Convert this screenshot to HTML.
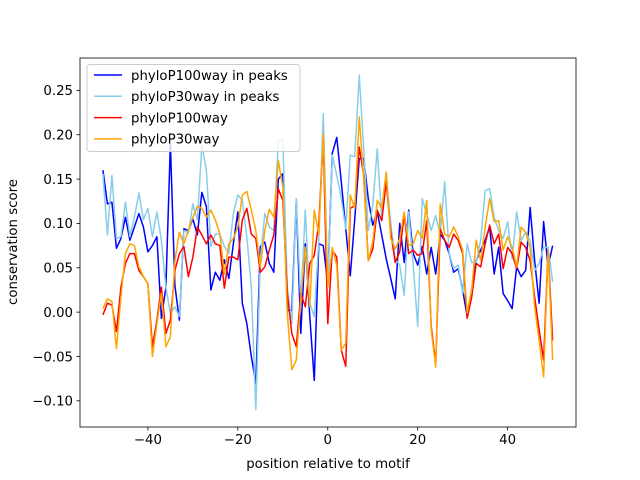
<!DOCTYPE html>
<html><head><meta charset="utf-8"><style>
html,body{margin:0;padding:0;background:#fff;}
svg{display:block;font-family:"DejaVu Sans","Liberation Sans",sans-serif;}
</style></head><body>
<svg id="chart" width="640" height="480" viewBox="0 0 640 480" xmlns="http://www.w3.org/2000/svg">
<rect width="640" height="480" fill="#fff"/>
<g id="plot"></g>
<rect x="80" y="58" width="496" height="369" fill="none" stroke="#000" stroke-width="0.8"/>
<g id="xticks"></g><g id="yticks"></g>
<text x="328" y="468" font-size="13.3" text-anchor="middle">position relative to motif</text>
<text transform="translate(17,242) rotate(-90)" font-size="13.3" text-anchor="middle">conservation score</text>
<g id="legend"></g>
</svg>
<script>
const positions = Array.from({length:101},(_, i)=>i-50);
const p100Peaks = [0.160,0.122,0.124,0.072,0.083,0.107,0.081,0.096,0.111,0.096,0.068,0.075,0.085,-0.007,0.028,0.190,0.030,-0.009,0.094,0.092,0.105,0.087,0.135,0.119,0.025,0.045,0.036,0.059,0.038,0.077,0.113,0.010,-0.013,-0.050,-0.080,0.074,0.079,0.055,0.045,0.150,0.156,0.002,0.002,0.126,-0.024,0.077,-0.005,-0.077,0.077,0.075,0.032,0.179,0.197,0.147,0.094,0.041,0.105,0.173,0.173,0.128,0.098,0.113,0.087,0.060,0.038,0.015,0.100,0.056,0.115,0.066,0.053,0.074,0.043,0.073,0.043,0.088,0.081,0.066,0.045,0.049,0.025,-0.005,0.025,0.058,0.070,0.081,0.096,0.043,0.073,0.021,0.013,0.004,0.051,0.040,0.047,0.118,0.058,0.010,0.102,0.051,0.075];
const p30Peaks = [0.156,0.087,0.154,0.083,0.085,0.124,0.085,0.107,0.134,0.104,0.117,0.085,0.113,0.081,0.028,-0.002,0.006,-0.005,0.092,0.089,0.122,0.104,0.188,0.160,0.074,0.088,0.088,0.074,0.066,0.111,0.132,0.126,0.085,0.028,-0.110,0.059,0.111,0.096,0.092,0.194,0.194,0.028,-0.013,0.128,0.010,0.115,0.010,-0.005,0.081,0.224,0.030,0.177,0.154,0.128,0.094,0.177,0.175,0.267,0.184,0.092,0.120,0.184,0.105,0.156,0.100,0.060,0.053,0.019,0.113,0.053,-0.016,0.128,0.111,0.092,0.109,0.088,0.147,0.066,0.049,0.053,0.021,0.077,0.056,0.056,0.081,0.137,0.139,0.107,0.092,0.083,0.102,0.060,0.113,0.081,0.090,0.081,0.047,0.055,0.073,0.073,0.034];
const p100All = [-0.003,0.010,0.008,-0.022,0.028,0.055,0.066,0.066,0.047,0.040,0.032,-0.039,-0.009,0.028,-0.024,-0.009,0.047,0.066,0.074,0.040,0.062,0.096,0.087,0.077,0.087,0.077,0.075,0.027,0.062,0.062,0.059,0.104,0.117,0.088,0.083,0.045,0.051,0.070,0.087,0.139,0.126,0.021,-0.024,-0.039,0.021,0.006,0.055,0.064,0.100,0.194,-0.013,0.070,0.062,-0.043,-0.061,0.117,0.120,0.186,0.154,0.058,0.071,0.115,0.103,0.147,0.090,0.056,0.068,0.110,0.066,0.070,0.064,0.066,0.103,-0.016,-0.058,0.094,0.081,0.073,0.088,0.081,0.066,-0.007,0.017,0.055,0.051,0.077,0.098,0.077,0.088,0.049,0.073,0.066,0.049,0.079,0.073,0.058,0.017,-0.020,-0.054,0.070,-0.032];
const p30All = [0.004,0.015,0.012,-0.041,0.017,0.066,0.077,0.075,0.051,0.040,0.032,-0.050,-0.013,0.021,-0.039,-0.028,0.058,0.090,0.077,0.092,0.107,0.119,0.117,0.107,0.115,0.104,0.088,0.043,0.077,0.083,0.096,0.132,0.136,0.115,0.092,0.051,0.092,0.116,0.107,0.171,0.141,-0.002,-0.065,-0.054,0.014,0.073,0.006,0.115,0.088,0.201,0.028,0.073,0.053,-0.043,-0.035,0.132,0.117,0.220,0.150,0.058,0.079,0.126,0.117,0.158,0.083,0.071,0.083,0.113,0.075,0.077,0.092,0.083,0.126,-0.020,-0.062,0.122,0.088,0.085,0.096,0.085,0.070,-0.001,0.025,0.081,0.058,0.096,0.128,0.102,0.103,0.070,0.085,0.073,0.051,0.096,0.090,0.073,0.006,-0.032,-0.073,0.070,-0.054];
const seriesNames = ["phyloP100way in peaks","phyloP30way in peaks","phyloP100way","phyloP30way"];
const seriesColors = ["#0000ff","#87ceeb","#ff0000","#ffa500"];
const xTickValues = [-40,-20,0,20,40];
const yTickValues = [-0.10,-0.05,0.00,0.05,0.10,0.15,0.20,0.25];

const NS="http://www.w3.org/2000/svg";
const X0=80,X1=576,Y0=58,Y1=427;
const xMin=-55.1,xMax=55.2,yMin=-0.1295,yMax=0.2865;
const sx=v=>X0+(v-xMin)/(xMax-xMin)*(X1-X0);
const sy=v=>Y1-(v-yMin)/(yMax-yMin)*(Y1-Y0);
function mk(tag,attrs,parent){const e=document.createElementNS(NS,tag);for(const k in attrs)e.setAttribute(k,attrs[k]);parent.appendChild(e);return e;}
const plot=document.getElementById('plot');
const data=[p100Peaks,p30Peaks,p100All,p30All];
const slugs=["phylop100-peaks-line","phylop30-peaks-line","phylop100-line","phylop30-line"];
data.forEach((arr,si)=>{
  const pts=arr.map((v,i)=>sx(positions[i]).toFixed(2)+","+sy(v).toFixed(2)).join(" ");
  const pl=mk('polyline',{points:pts,fill:'none',stroke:seriesColors[si],'stroke-width':1.5,'stroke-linejoin':'round'},plot);
  
  
});
const xg=document.getElementById('xticks');
xTickValues.forEach(v=>{
  const x=sx(v);
  const t=mk('line',{x1:x,x2:x,y1:Y1,y2:Y1+3.5,stroke:'#000','stroke-width':0.8},xg);
  
  
  const l=mk('text',{x:x,y:Y1+17,'font-size':13.3,'text-anchor':'middle'},xg);
  l.textContent=(v<0?"\u2212":"")+Math.abs(v);
  
  
});
const yg=document.getElementById('yticks');
yTickValues.forEach(v=>{
  const y=sy(v);
  const t=mk('line',{x1:X0-3.5,x2:X0,y1:y,y2:y,stroke:'#000','stroke-width':0.8},yg);
  
  
  const l=mk('text',{x:X0-7,y:y+4.8,'font-size':13.3,'text-anchor':'end'},yg);
  l.textContent=(v<0?"\u2212":"")+Math.abs(v).toFixed(2);
  
  
});
const lg=document.getElementById('legend');
const box=mk('rect',{x:87,y:64.5,width:213,height:87,rx:3,fill:'#fff','fill-opacity':0.8,stroke:'#ccc','stroke-width':1},lg);


seriesNames.forEach((n,i)=>{
  const y=75+i*21.3;
  const ln=mk('line',{x1:94,x2:122,y1:y,y2:y,stroke:seriesColors[i],'stroke-width':1.5},lg);
  
  
  const tx=mk('text',{x:131,y:y+4.8,'font-size':13.3},lg);
  tx.textContent=n;
  
  
});
</script>
</body></html>
